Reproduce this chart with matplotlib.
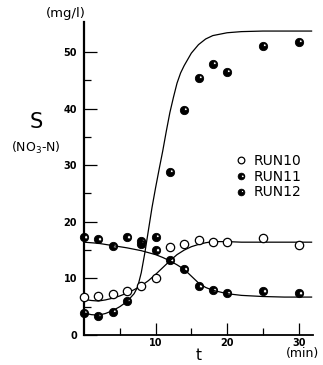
import numpy as np
import matplotlib
matplotlib.use("Agg")
import matplotlib.pyplot as plt
from matplotlib.path import Path

# observed points (min, mg/l)
t_obs = [0, 2, 4, 6, 8, 10, 12, 14, 16, 18, 20, 25, 30]
run10 = [6.7, 6.9, 7.3, 7.8, 8.7, 10.1, 15.6, 16.0, 16.8, 16.4, 16.4, 17.1, 15.9]
run11 = [17.3, 17.0, 15.7, 17.3, 16.6, 15.0, 13.2, 11.7, 8.7, 7.9, 7.4, 7.8, 7.4]
run12 = [3.9, 3.4, 4.1, 6.0, 16.1, 17.3, 28.8, 39.8, 45.4, 47.9, 46.5, 51.1, 51.8]

# model curves
curve10_t = [0, 1, 2, 3, 4, 5, 6, 7, 8, 9, 10, 11, 12, 13, 14, 15, 16, 17, 18, 20, 22, 25, 28, 31.8]
curve10 = [6.3, 6.1, 6.0, 6.2, 6.5, 6.9, 7.4, 8.0, 8.7, 9.6, 10.7, 11.9, 13.1, 14.2, 15.0, 15.6,
           16.0, 16.3, 16.5, 16.5, 16.4, 16.4, 16.4, 16.4]
curve11_t = [0, 2, 4, 6, 8, 10, 11, 12, 13, 14, 15, 16, 17, 18, 19, 20, 22, 25, 28, 31.8]
curve11 = [16.4, 16.2, 15.8, 15.4, 14.9, 14.2, 13.7, 13.1, 12.4, 11.6, 10.4, 9.2, 8.4, 7.9, 7.6,
           7.3, 7.0, 6.8, 6.7, 6.7]
curve12_t = [0, 1, 2, 3, 4, 5, 6, 7, 7.5, 8, 8.5, 9, 9.5, 10, 10.5, 11, 11.5, 12, 12.5, 13, 13.5,
             14, 15, 16, 17, 18, 20, 22, 25, 28, 31.8]
curve12 = [3.9, 3.6, 3.5, 3.8, 4.3, 5.0, 5.9, 7.3, 8.5, 11.0, 14.5, 18.5, 22.5, 26.0, 29.3, 32.5,
           36.0, 39.3, 42.0, 44.5, 46.3, 47.6, 49.8, 51.3, 52.3, 52.9, 53.4, 53.6, 53.7, 53.7, 53.7]

labels = ["RUN10", "RUN11", "RUN12"]
x_ticks = [10, 20, 30]
y_ticks = [0, 10, 20, 30, 40, 50]


def spot_marker(cx, cy, r):
    # dark disc with a light hole
    outer = Path.unit_circle()
    inner = Path.circle((cx, cy), r)
    verts = np.vstack([inner.vertices[:-1][::-1], inner.vertices[:1]])
    inner_rev = Path(verts, inner.codes)
    return Path.make_compound_path(outer, inner_rev)


m11 = spot_marker(0.38, 0.05, 0.4)
m12 = spot_marker(0.3, 0.3, 0.33)

plt.rcParams['font.family'] = ['DejaVu Sans']

fig = plt.figure(figsize=(3.23, 3.65), dpi=100)
ax = fig.add_axes([84 / 323, 30 / 365, (313 - 84) / 323, 313 / 365])

ax.plot(curve10_t, curve10, color='black', lw=0.9, zorder=2)
ax.plot(curve11_t, curve11, color='black', lw=0.9, zorder=2)
ax.plot(curve12_t, curve12, color='black', lw=0.9, zorder=2)

ax.plot(t_obs, run10, ls='none', marker='o', ms=6, mfc='white', mec='black', mew=0.9,
        label=labels[0], zorder=3, clip_on=False)
ax.plot(t_obs, run11, ls='none', marker=m11, ms=6, mfc='black', mec='black', mew=0.6,
        label=labels[1], zorder=3, clip_on=False)
ax.plot(t_obs, run12, ls='none', marker=m12, ms=6, mfc='black', mec='black', mew=0.6,
        label=labels[2], zorder=3, clip_on=False)

ax.set_xlim(0, 32)
ax.set_ylim(0, 55.3)

for s in ['top', 'right']:
    ax.spines[s].set_visible(False)
ax.spines['left'].set_linewidth(1.6)
ax.spines['bottom'].set_linewidth(1.3)

ax.set_xticks(x_ticks)
ax.set_xticks([5, 15, 25], minor=True)
ax.set_yticks(y_ticks)
ax.set_yticks([5, 15, 25, 35, 45], minor=True)
ax.set_yticklabels([str(v) for v in y_ticks], fontsize=7, fontweight='bold')
ax.set_xticklabels([str(v) for v in x_ticks], fontsize=7, fontweight='bold')
ax.tick_params(which='major', direction='in', length=9, width=0.9)
ax.tick_params(which='minor', direction='in', length=5, width=0.9)
ax.tick_params(axis='y', pad=5)
ax.tick_params(axis='x', pad=2)

ax.set_xlabel('t', fontsize=11, labelpad=0)
ax.text(0.955, -0.038, '(min)', transform=ax.transAxes, ha='center', va='top', fontsize=9)
fig.text(66 / 323, 1 - 14 / 365, '(mg/l)', ha='center', va='center', fontsize=9.5)
fig.text(36 / 323, 1 - 122 / 365, 'S', ha='center', va='center', fontsize=15)
fig.text(36 / 323, 1 - 148 / 365, '(NO$_3$-N)', ha='center', va='center', fontsize=9)

ax.legend(loc='upper left', bbox_to_anchor=(0.63, 0.6), frameon=False, fontsize=10,
          handlelength=0.8, handletextpad=0.5, labelspacing=0.12, borderpad=0,
          markerscale=0.8)

fig.savefig('out.png', dpi=100)
